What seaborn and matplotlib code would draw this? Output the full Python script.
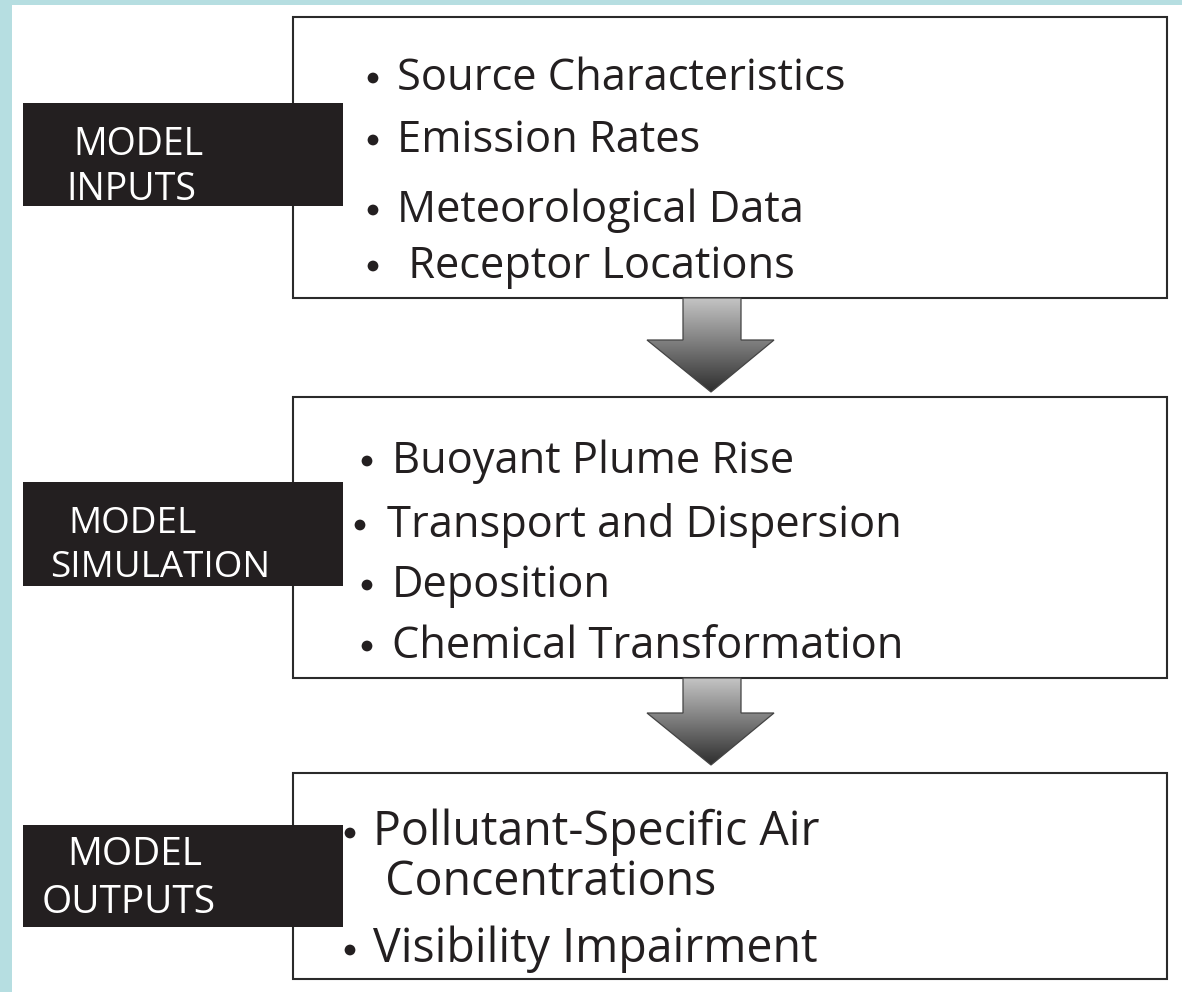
import numpy as np
import seaborn as sns
import matplotlib.pyplot as plt
from matplotlib.patches import Rectangle, Polygon
from matplotlib.colors import LinearSegmentedColormap

# stage labels (black boxes) and the bullet items of each stage
input_label = ["MODEL", "INPUTS"]
simulation_label = ["MODEL", "SIMULATION"]
output_label = ["MODEL", "OUTPUTS"]

input_items = ["Source Characteristics", "Emission Rates",
               "Meteorological Data", " Receptor Locations"]
simulation_items = ["Buoyant Plume Rise", "Transport and Dispersion",
                    "Deposition", "Chemical Transformation"]
output_items = ["Pollutant-Specific Air", " Concentrations",
                "Visibility Impairment"]
output_bullets = [True, False, True]

sns.set_theme(style="white")
plt.rcParams["font.family"] = ["Open Sans", "DejaVu Sans"]

fig = plt.figure(figsize=(11.82, 9.92), dpi=100)
fig.patch.set_facecolor("#b6dee1")
ax = fig.add_axes([0, 0, 1, 1])
ax.set_facecolor("#b6dee1")

# white page
ax.add_patch(Rectangle((12, 5), 1170, 987, facecolor="white", edgecolor="none", zorder=0))

line_col = "#2a2a2a"
text_col = "#231f20"
box_x0, box_x1 = 293, 1167
boxes = [(17, 298), (397, 678), (773, 979)]
for top, bottom in boxes:
    ax.add_patch(Rectangle((box_x0, top), box_x1 - box_x0, bottom - top,
                           facecolor="none", edgecolor=line_col, lw=1.5, zorder=2))

# black label boxes
label_boxes = [(103, 206), (482, 586), (825, 927)]
labels = [input_label, simulation_label, output_label]
label_sizes = [27, 26.5, 28]
label_pos = [[(73, 155), (66, 200)],
             [(68, 533), (50, 577)],
             [(67, 865), (42, 913)]]
for (top, bottom), lab, pos, fs in zip(label_boxes, labels, label_pos, label_sizes):
    ax.add_patch(Rectangle((23, top), 320, bottom - top, facecolor=text_col,
                           edgecolor="none", zorder=3))
    for txt, (x, y) in zip(lab, pos):
        ax.text(x, y, txt, color="white", fontsize=fs, ha="left", va="baseline", zorder=4)

# bullet items: items, has bullet, bullet x, text x, baselines, font size
item_sets = [
    (input_items, [True] * 4, [373] * 4, [397] * 4, [90, 152, 222, 278], 31.3),
    (simulation_items, [True] * 4, [367, 360, 367, 367], [392, 387, 392, 392],
     [473, 537, 597, 658], 31.2),
    (output_items, output_bullets, [350, 350, 350], [373, 373, 373], [845, 895, 962], 33.5),
]
bx_all, by_all = [], []
for items, bullets, bx, tx, ys, fs in item_sets:
    for item, has_b, b, x, y in zip(items, bullets, bx, tx, ys):
        if has_b:
            bx_all.append(b)
            by_all.append(y - 12)
        ax.text(x, y, item, color=text_col, fontsize=fs, ha="left",
                va="baseline", zorder=4)

sns.scatterplot(x=bx_all, y=by_all, ax=ax, s=60, color=text_col,
                edgecolor="none", legend=False, zorder=4)

# gradient arrows between boxes
cmap = LinearSegmentedColormap.from_list("arrow", ["#c4c4c4", "#7a7a7a", "#2e2e2e"])
grad = np.linspace(0, 1, 256).reshape(-1, 1)
arrows = [(298, 340, 392), (678, 713, 765)]
for top, head, tip in arrows:
    pts = [(683, top), (741, top), (741, head), (774, head), (711, tip),
           (647, head), (683, head)]
    poly = Polygon(pts, closed=True, facecolor="none", edgecolor="#444444", lw=0.9, zorder=6)
    ax.add_patch(poly)
    im = ax.imshow(grad, extent=[647, 774, tip, top], origin="upper", cmap=cmap,
                   aspect="auto", zorder=5)
    im.set_clip_path(poly)

ax.set_xlim(0, 1182)
ax.set_ylim(992, 0)
ax.axis("off")

fig.savefig("out.png", dpi=100, facecolor=fig.get_facecolor())
